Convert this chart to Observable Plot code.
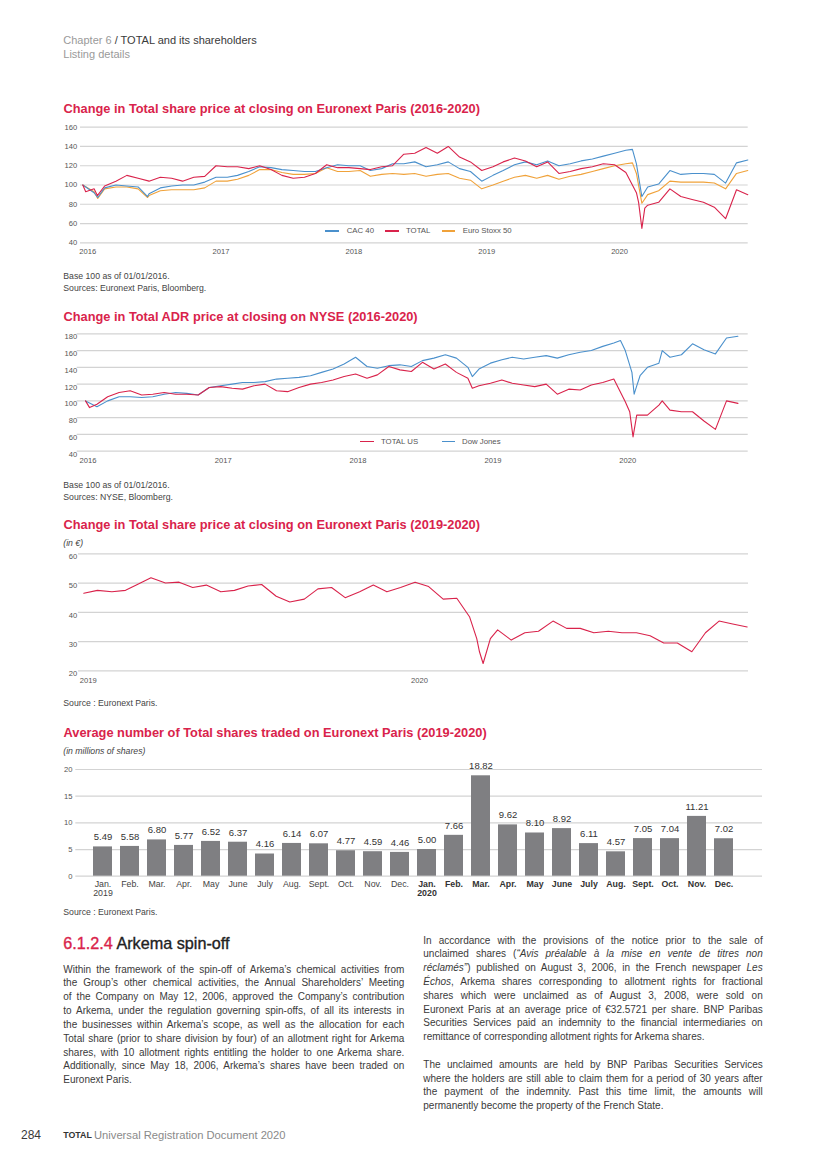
<!DOCTYPE html>
<html><head><meta charset="utf-8">
<script src="https://cdn.jsdelivr.net/npm/d3@7"></script>
<script src="https://cdn.jsdelivr.net/npm/@observablehq/plot@0.6"></script>
<style>
html,body{margin:0;padding:0;background:#fff;}
#page{position:relative;width:826px;height:1168px;overflow:hidden;font-family:"Liberation Sans",Arial,sans-serif;color:#333;}
#page div{position:absolute;white-space:nowrap;}
</style></head>
<body><div id="page"></div>
<script>
// ---------------- DATA ----------------
// Chart 1: Euronext Paris, base 100 (monthly readings Jan 2016 .. Jan 2021)
const cac40 = [100,92,97,100,99,98,91,97,99,100, 100,103,108,108,110,114,119,118,116,115,
  114,114,118,121,120,120,115,117,122,122, 124,119,121,124,117,114,104,110,115,121,
  124,121,125,120,122,125,127,130,133,136, 122,98,101,115,111,112,112,111,102,123, 126];
const cac40Extra = [["2016-02-11",87],["2016-06-27",88],["2020-02-19",137],["2020-03-16",88]];
const total1 = [100,96,99,104,110,107,104,108,107,104, 108,109,120,119,119,117,120,116,110,107,
  108,112,121,118,118,117,116,119,120,132, 133,139,133,140,129,124,115,119,124,128,
  125,119,124,112,114,117,119,122,121,113, 92,79,82,96,88,85,82,77,65,95, 90];
const total1Extra = [["2016-01-09",93],["2016-02-10",89],["2020-03-07",82],["2020-03-16",55],["2020-03-24",76]];
const stoxx50 = [100,93,96,98,98,96,89,94,95,95, 95,97,104,104,106,110,116,116,113,111,
  111,112,118,114,114,115,109,111,112,111, 112,109,111,112,107,105,96,100,104,108,
  110,107,110,106,109,111,114,117,120,122, 112,90,94,104,103,103,103,102,96,112, 115];
const stoxx50Extra = [["2016-02-11",86],["2016-06-27",87],["2020-02-19",123],["2020-03-16",81]];
const yTicks1 = [40,60,80,100,120,140,160];

// Chart 2: NYSE, base 100 (monthly readings on the chart's axis, Jan 2016 .. Nov 2020)
const totalUS = [100,96,105,110,112,107,108,110,108,108, 107,116,117,115,114,118,120,112,111,116,
  120,122,125,129,132,127,131,141, 137,135,146,138,144,134,127,118,121,125,121,119,
  117,120,108,114,113,119,122,126, 99,83,83,95,89,87,87,76,66,100,97];
const totalUSExtra = [["2016-01-12",92],["2018-11-13",115],["2020-01-13",87],["2020-01-22",57],["2020-04-10",100]];
const dowJones = [100,93,100,105,105,104,105,108,110,109, 107,116,118,120,122,122,123,126,127,128,
  130,134,138,144,152,141,139,142, 143,141,148,151,155,151,140,138,145,149,152,150,
  152,154,151,155,158,160,165,169, 160,118,140,145,152,155,168,161,156,175,177];
const dowJonesExtra = [["2018-11-13",129],["2019-12-19",172],["2020-01-19",134],["2020-01-25",108],["2020-02-10",130],["2020-04-10",160]];
const yTicks2 = [40,60,80,100,120,140,160,180];

// Chart 3: TOTAL share price in euros (readings on the 1st and 16th of each month, 2019-2020)
const price3 = [46.5,47.5,47,47.5,49.5,51.8,50,50.3,48.5,49.3,47,47.5,49,49.5,45.5,43.5,44.5,48,48.5,45,47,49.3,47,48.5,
  50.3,48.8,44.5,44.8,38.5,22.5,34,30.5,33,33.5,37,34.5,34.5,33,33.5,33,33,32,29.5,29.5,26.5,33,37,36,35];
const price3Extra = [["2020-03-09",31],["2020-03-12",26.5],["2020-03-24",31]];
const yTicks3 = [20,30,40,50,60];

// Chart 4: average number of shares traded (millions)
const monthLabels = ["Jan.","Feb.","Mar.","Apr.","May","June","July","Aug.","Sept.","Oct.","Nov.","Dec."];
const shares2019 = [5.49,5.58,6.80,5.77,6.52,6.37,4.16,6.14,6.07,4.77,4.59,4.46];
const shares2020 = [5.00,7.66,18.82,9.62,8.10,8.92,6.11,4.57,7.05,7.04,11.21,7.02];
const yTicks4 = [0,5,10,15,20];

// ---------------- STYLE ----------------
const RED = "#d9234b", BLUE = "#4a90cc", ORANGE = "#f0a23a", GRID = "#d3d3d3", BAR = "#7f7f82";
const FONT = '"Liberation Sans", Arial, sans-serif';
const page = document.getElementById("page");

function txt(x, yc, html, o = {}) {
  const d = document.createElement("div");
  const fs = o.size || 10, lh = o.lh || Math.round(fs * 1.3);
  d.style.left = x + "px";
  d.style.top = (yc - lh / 2) + "px";
  d.style.fontSize = fs + "px";
  d.style.lineHeight = lh + "px";
  d.style.color = o.color || "#333";
  d.style.fontWeight = o.weight || "normal";
  d.style.fontStyle = o.style || "normal";
  if (o.css) d.style.cssText += o.css;
  d.innerHTML = html;
  page.appendChild(d);
  return d;
}
function legendItem(x1, x2, y, color, tx, label) {
  const l = document.createElement("div");
  l.style.cssText = `left:${x1}px;top:${y - 0.6}px;width:${x2 - x1}px;height:1.2px;background:${color}`;
  page.appendChild(l);
  txt(tx, y, label, {size: 7.8, color: "#555"});
}
function place(svg, top) {
  svg.style.position = "absolute";
  svg.style.left = "0px";
  svg.style.top = top + "px";
  page.appendChild(svg);
}
function series(dates, vals, extras) {
  const pts = dates.map((d, i) => ({date: d, value: vals[i]}));
  for (const [ds, v] of extras || []) pts.push({date: new Date(ds), value: v});
  pts.sort((a, b) => a.date - b.date);
  return pts;
}
const utc = (y, m = 0, d = 1) => new Date(Date.UTC(y, m, d));
const yearTicks = (a, b) => d3.range(a, b + 1).map(y => utc(y));
const fmtYear = d3.utcFormat("%Y");
const baseStyle = {fontFamily: FONT, fontSize: "7.6px", color: "#555", background: "transparent", overflow: "visible"};

// ---------------- HEADER ----------------
txt(63.3, 40, '<span style="color:#9a9a9a">Chapter 6</span> / TOTAL and its shareholders', {size: 11, color: "#3a3a3a"});
txt(63.3, 53.5, 'Listing details', {size: 11, color: "#9a9a9a"});

// ---------------- CHART 1 ----------------
txt(63.5, 108.3, "Change in Total share price at closing on Euronext Paris (2016-2020)", {size: 12.8, weight: "bold", color: RED});
const months1 = d3.utcMonth.range(utc(2016), utc(2021, 0, 2));
place(Plot.plot({
  width: 826, height: 145,
  marginTop: 11.7, marginBottom: 17.7, marginLeft: 82.3, marginRight: 78.7,
  x: {type: "utc", domain: [utc(2016), utc(2021)]},
  y: {domain: [40, 160]},
  style: baseStyle,
  marks: [
    Plot.ruleY(yTicks1, {stroke: GRID, strokeWidth: 1.2, insetLeft: -2.3, insetRight: -0.4}),
    Plot.axisY({ticks: yTicks1, tickSize: 0, tickPadding: 5.6, label: null}),
    Plot.axisX({ticks: yearTicks(2016, 2020), tickFormat: fmtYear, tickSize: 0, tickPadding: 6.1, dx: 5, label: null}),
    Plot.lineY(series(months1, stoxx50, stoxx50Extra), {x: "date", y: "value", stroke: ORANGE, strokeWidth: 1.1}),
    Plot.lineY(series(months1, cac40, cac40Extra), {x: "date", y: "value", stroke: BLUE, strokeWidth: 1.1}),
    Plot.lineY(series(months1, total1, total1Extra), {x: "date", y: "value", stroke: RED, strokeWidth: 1.1})
  ]
}), 115);
legendItem(325, 338.5, 231, BLUE, 346.7, "CAC 40");
legendItem(385, 398.5, 231, RED, 406, "TOTAL");
legendItem(441.7, 455.2, 231, ORANGE, 462.7, "Euro Stoxx 50");
txt(63.3, 276.7, "Base 100 as of 01/01/2016.", {size: 8.7, color: "#444"});
txt(63.3, 288.3, "Sources: Euronext Paris, Bloomberg.", {size: 8.7, color: "#444"});

// ---------------- CHART 2 ----------------
txt(63.5, 316.3, "Change in Total ADR price at closing on NYSE (2016-2020)", {size: 12.8, weight: "bold", color: RED});
const months2 = d3.utcMonth.range(utc(2016), utc(2020, 10, 2));
place(Plot.plot({
  width: 826, height: 145,
  marginTop: 8.3, marginBottom: 19.3, marginLeft: 85, marginRight: 66,
  x: {type: "utc", domain: [utc(2016), utc(2021)]},
  y: {domain: [40, 180]},
  style: baseStyle,
  marks: [
    Plot.ruleY(yTicks2, {stroke: GRID, strokeWidth: 1.2, insetLeft: -8.3, insetRight: 12.3}),
    Plot.axisY({ticks: yTicks2, tickSize: 0, tickPadding: 8.3, dy: 3, label: null}),
    Plot.axisX({ticks: yearTicks(2016, 2020), tickFormat: fmtYear, tickSize: 0, tickPadding: 6.7, dx: 2.5, label: null}),
    Plot.lineY(series(months2, dowJones, dowJonesExtra), {x: "date", y: "value", stroke: BLUE, strokeWidth: 1.1}),
    Plot.lineY(series(months2, totalUS, totalUSExtra), {x: "date", y: "value", stroke: RED, strokeWidth: 1.1})
  ]
}), 325);
legendItem(360, 373.5, 441.7, RED, 381, "TOTAL US");
legendItem(441.7, 455.2, 441.7, BLUE, 462, "Dow Jones");
txt(63.3, 485.7, "Base 100 as of 01/01/2016.", {size: 8.7, color: "#444"});
txt(63.3, 497.3, "Sources: NYSE, Bloomberg.", {size: 8.7, color: "#444"});

// ---------------- CHART 3 ----------------
txt(63.5, 524.3, "Change in Total share price at closing on Euronext Paris (2019-2020)", {size: 12.8, weight: "bold", color: RED});
txt(63.3, 543.3, "(in €)", {size: 8.7, style: "italic", color: "#444"});
const halfMonths = d3.utcMonth.range(utc(2019), utc(2021, 0, 2)).flatMap(d => [d, utc(d.getUTCFullYear(), d.getUTCMonth(), 16)]).filter(d => d <= utc(2021));
place(Plot.plot({
  width: 826, height: 145,
  marginTop: 8.3, marginBottom: 19.7, marginLeft: 83.3, marginRight: 79.3,
  x: {type: "utc", domain: [utc(2019), utc(2021)]},
  y: {domain: [20, 60]},
  style: baseStyle,
  marks: [
    Plot.ruleY(yTicks3, {stroke: GRID, strokeWidth: 1.2, insetLeft: -5.3, insetRight: -1.3}),
    Plot.axisY({ticks: yTicks3, tickSize: 0, tickPadding: 6.6, dy: 3, label: null}),
    Plot.axisX({ticks: yearTicks(2019, 2020), tickFormat: fmtYear, tickSize: 0, tickPadding: 7.1, dx: 4.5, label: null}),
    Plot.lineY(series(halfMonths, price3, price3Extra), {x: "date", y: "value", stroke: RED, strokeWidth: 1.1})
  ]
}), 545);
txt(63.3, 703, "Source : Euronext Paris.", {size: 8.7, color: "#444"});

// ---------------- CHART 4 ----------------
txt(63.5, 732.7, "Average number of Total shares traded on Euronext Paris (2019-2020)", {size: 12.8, weight: "bold", color: RED});
txt(63.3, 751.7, "(in millions of shares)", {size: 8.7, style: "italic", color: "#444"});
const bars = [
  ...shares2019.map((v, i) => ({key: monthLabels[i] + " 2019", label: monthLabels[i] + (i === 0 ? "\n2019" : ""), year: 2019, value: v})),
  ...shares2020.map((v, i) => ({key: monthLabels[i] + " 2020", label: monthLabels[i] + (i === 0 ? "\n2020" : ""), year: 2020, value: v}))
];
place(Plot.plot({
  width: 826, height: 140,
  marginTop: 9, marginBottom: 24.3, marginLeft: 75.5, marginRight: 76,
  x: {type: "band", domain: bars.map(d => d.key), padding: 0.28, axis: null},
  y: {domain: [0, 20]},
  style: baseStyle,
  marks: [
    Plot.ruleY(yTicks4, {stroke: GRID, strokeWidth: 1.2, insetLeft: -0.2, insetRight: -12}),
    Plot.axisY({ticks: yTicks4, tickSize: 0, tickPadding: 3.5, label: null}),
    Plot.barY(bars, {x: "key", y: "value", fill: BAR}),
    Plot.text(bars, {x: "key", y: "value", text: d => d.value.toFixed(2), dy: -9.7, fontSize: 9.5, fill: "#333"}),
    Plot.text(bars.filter(d => d.year === 2019), {x: "key", text: "label", frameAnchor: "bottom", lineAnchor: "top", dy: 4.1, fontSize: 8.8, lineHeight: 1.07, fill: "#444"}),
    Plot.text(bars.filter(d => d.year === 2020), {x: "key", text: "label", frameAnchor: "bottom", lineAnchor: "top", dy: 4.1, fontSize: 8.8, lineHeight: 1.07, fill: "#333", fontWeight: "bold"})
  ]
}), 760);
txt(63.3, 912.7, "Source : Euronext Paris.", {size: 8.7, color: "#444"});

// ---------------- TEXT ----------------
txt(63.3, 943.3, '<span style="color:' + RED + '">6.1.2.4</span> Arkema spin-off', {size: 16.2, color: "#222", css: "-webkit-text-stroke:0.35px currentColor;"});

function para(x, y0, step, width, lines) {
  lines.forEach((html, i) => {
    const d = txt(x, y0 + i * step, "", {size: 10, lh: 13, color: "#3a3a3a"});
    const s = document.createElement("span");
    s.innerHTML = html;
    d.appendChild(s);
    if (i < lines.length - 1) {
      const w = s.getBoundingClientRect().width;
      const n = (s.textContent.match(/ /g) || []).length;
      if (n) d.style.wordSpacing = ((width - w) / n) + "px";
    }
  });
}
para(63.3, 969, 13.85, 341, [
  "Within the framework of the spin-off of Arkema’s chemical activities from",
  "the Group’s other chemical activities, the Annual Shareholders’ Meeting",
  "of the Company on May 12, 2006, approved the Company’s contribution",
  "to Arkema, under the regulation governing spin-offs, of all its interests in",
  "the businesses within Arkema’s scope, as well as the allocation for each",
  "Total share (prior to share division by four) of an allotment right for Arkema",
  "shares, with 10 allotment rights entitling the holder to one Arkema share.",
  "Additionally, since May 18, 2006, Arkema’s shares have been traded on",
  "Euronext Paris."
]);
para(423.3, 940, 13.82, 339.4, [
  "In accordance with the provisions of the notice prior to the sale of",
  "unclaimed shares (<i>“Avis préalable à la mise en vente de titres non</i>",
  "<i>réclamés”</i>) published on August 3, 2006, in the French newspaper <i>Les</i>",
  "<i>Échos</i>, Arkema shares corresponding to allotment rights for fractional",
  "shares which were unclaimed as of August 3, 2008, were sold on",
  "Euronext Paris at an average price of €32.5721 per share. BNP Paribas",
  "Securities Services paid an indemnity to the financial intermediaries on",
  "remittance of corresponding allotment rights for Arkema shares."
]);
para(423.3, 1064.3, 13.8, 339.4, [
  "The unclaimed amounts are held by BNP Paribas Securities Services",
  "where the holders are still able to claim them for a period of 30 years after",
  "the payment of the indemnity. Past this time limit, the amounts will",
  "permanently become the property of the French State."
]);

// ---------------- FOOTER ----------------
txt(21, 1135, "284", {size: 12, color: "#3a3a3a"});
txt(63.3, 1135, '<b style="color:#333;font-size:8.8px">TOTAL</b>', {size: 8.8, color: "#333"});
txt(94, 1135, 'Universal Registration Document 2020', {size: 11.2, color: "#8a8a8a"});
</script>
</body></html>
